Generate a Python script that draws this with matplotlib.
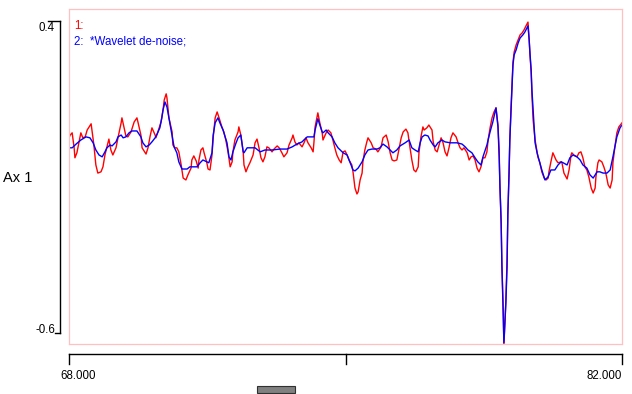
import matplotlib
matplotlib.use('Agg')
import matplotlib.pyplot as plt
from matplotlib.lines import Line2D
from matplotlib.patches import Rectangle
from matplotlib.transforms import blended_transform_factory, offset_copy

# raw trace (channel 1, red)
t_raw = [68.00, 68.03, 68.08, 68.13, 68.15, 68.20, 68.25, 68.30, 68.35, 68.41,
         68.46, 68.56, 68.58, 68.63, 68.68, 68.73, 68.81, 68.86, 68.91, 68.96,
         69.01, 69.06, 69.11, 69.19, 69.24, 69.32, 69.34, 69.39, 69.44, 69.49,
         69.57, 69.65, 69.72, 69.75, 69.82, 69.85, 69.95, 70.00, 70.05, 70.10,
         70.18, 70.20, 70.25, 70.33, 70.38, 70.41, 70.46, 70.48, 70.53, 70.61,
         70.63, 70.68, 70.73, 70.78, 70.84, 70.89, 70.96, 71.01, 71.09, 71.11,
         71.16, 71.22, 71.27, 71.29, 71.34, 71.39, 71.42, 71.49, 71.52, 71.57,
         71.62, 71.65, 71.70, 71.75, 71.80, 71.87, 71.92, 71.97, 72.03, 72.08,
         72.13, 72.15, 72.20, 72.28, 72.30, 72.35, 72.41, 72.43, 72.48, 72.53,
         72.58, 72.66, 72.71, 72.76, 72.81, 72.86, 72.91, 72.96, 73.01, 73.06,
         73.14, 73.19, 73.27, 73.32, 73.39, 73.44, 73.52, 73.57, 73.65, 73.67,
         73.72, 73.77, 73.82, 73.90, 73.95, 74.00, 74.05, 74.13, 74.18, 74.20,
         74.23, 74.28, 74.30, 74.35, 74.41, 74.43, 74.51, 74.56, 74.63, 74.68,
         74.73, 74.78, 74.84, 74.89, 74.94, 74.99, 75.04, 75.09, 75.16, 75.19,
         75.24, 75.29, 75.32, 75.37, 75.42, 75.44, 75.49, 75.54, 75.57, 75.65,
         75.70, 75.77, 75.82, 75.90, 75.95, 76.03, 76.08, 76.13, 76.18, 76.23,
         76.30, 76.35, 76.41, 76.46, 76.53, 76.58, 76.63, 76.68, 76.73, 76.78,
         76.84, 76.86, 76.91, 76.96, 76.99, 77.06, 77.11, 77.19, 77.22, 77.27,
         77.32, 77.37, 77.42, 77.47, 77.52, 77.57, 77.62, 77.67, 77.72, 77.80,
         77.85, 77.90, 77.95, 78.00, 78.08, 78.13, 78.18, 78.23, 78.28, 78.33,
         78.38, 78.43, 78.48, 78.53, 78.58, 78.61, 78.66, 78.71, 78.76, 78.81,
         78.86, 78.89, 78.91, 78.94, 78.96, 78.99, 79.01, 79.04, 79.06, 79.09,
         79.11, 79.14, 79.16, 79.19, 79.22, 79.24, 79.27, 79.32, 79.37, 79.42,
         79.47, 79.52, 79.57, 79.62, 79.65, 79.67, 79.70, 79.72, 79.75, 79.80,
         79.85, 79.87, 79.92, 79.97, 80.03, 80.08, 80.13, 80.15, 80.20, 80.25,
         80.33, 80.38, 80.46, 80.48, 80.53, 80.61, 80.66, 80.71, 80.73, 80.78,
         80.86, 80.91, 80.96, 81.01, 81.06, 81.11, 81.16, 81.22, 81.27, 81.32,
         81.34, 81.39, 81.42, 81.49, 81.54, 81.59, 81.65, 81.70, 81.75, 81.77,
         81.82, 81.87, 81.92, 82.00]
raw = [0.026, 0.035, 0.042, -0.006, -0.038, -0.022, 0.010, 0.042, 0.026, 0.029,
       0.051, 0.071, 0.051, 0.003, -0.061, -0.087, -0.083, -0.067, -0.029, -0.003,
       0.022, -0.013, -0.029, -0.006, 0.026, 0.074, 0.090, 0.061, 0.032, 0.029,
       0.045, 0.077, 0.090, 0.074, 0.035, -0.006, -0.026, -0.006, 0.029, 0.058,
       0.035, 0.026, 0.045, 0.077, 0.115, 0.147, 0.167, 0.154, 0.090, 0.045,
       0.003, -0.006, -0.006, -0.019, -0.061, -0.103, -0.109, -0.093, -0.071, -0.045,
       -0.032, -0.048, -0.071, -0.045, -0.013, -0.006, -0.022, -0.054, -0.074, -0.077,
       -0.029, 0.026, 0.090, 0.109, 0.090, 0.061, 0.045, 0.019, -0.022, -0.067,
       -0.051, -0.019, 0.019, 0.045, 0.061, 0.035, -0.019, -0.061, -0.083, -0.067,
       -0.054, -0.029, 0.010, 0.022, -0.006, -0.038, -0.051, -0.035, -0.003, -0.006,
       -0.019, -0.010, 0.000, -0.006, -0.022, -0.035, -0.022, 0.003, 0.026, 0.035,
       0.013, 0.003, 0.010, -0.003, 0.010, 0.026, 0.010, -0.006, -0.019, 0.010,
       0.061, 0.093, 0.106, 0.074, 0.042, 0.019, 0.042, 0.051, 0.042, 0.019,
       -0.006, -0.029, -0.045, -0.054, -0.019, -0.016, -0.029, -0.045, -0.061, -0.083,
       -0.135, -0.154, -0.147, -0.109, -0.087, -0.051, -0.013, 0.013, 0.026, 0.010,
       -0.006, -0.010, -0.019, -0.003, 0.026, 0.035, 0.013, -0.022, -0.045, -0.048,
       -0.045, -0.013, 0.026, 0.045, 0.054, 0.042, -0.003, -0.045, -0.077, -0.083,
       -0.067, -0.022, 0.029, 0.061, 0.051, 0.058, 0.067, 0.051, 0.013, -0.013,
       -0.019, 0.003, 0.026, 0.010, -0.019, -0.032, -0.006, 0.026, 0.042, 0.029,
       0.010, -0.006, -0.013, -0.006, -0.022, -0.045, -0.035, -0.032, -0.045, -0.071,
       -0.083, -0.067, -0.038, -0.038, -0.019, 0.019, 0.058, 0.090, 0.109, 0.122,
       0.067, -0.013, -0.131, -0.237, -0.381, -0.510, -0.638, -0.558, -0.494, -0.365,
       -0.221, -0.093, 0.019, 0.122, 0.212, 0.269, 0.301, 0.324, 0.340, 0.356,
       0.362, 0.372, 0.385, 0.397, 0.340, 0.292, 0.237, 0.163, 0.083, 0.019,
       -0.019, -0.035, -0.054, -0.083, -0.103, -0.109, -0.103, -0.083, -0.051, -0.022,
       -0.045, -0.054, -0.051, -0.054, -0.087, -0.106, -0.077, -0.029, -0.022, -0.029,
       -0.035, -0.022, -0.019, -0.038, -0.067, -0.077, -0.099, -0.135, -0.151, -0.135,
       -0.099, -0.054, -0.045, -0.051, -0.067, -0.087, -0.125, -0.135, -0.109, -0.054,
       -0.003, 0.042, 0.061, 0.074]

# wavelet de-noised trace (channel 2, blue)
t_den = [68.00, 68.08, 68.18, 68.30, 68.43, 68.53, 68.61, 68.68, 68.76, 68.84,
         68.91, 68.96, 69.04, 69.09, 69.19, 69.24, 69.32, 69.37, 69.44, 69.52,
         69.59, 69.72, 69.82, 69.87, 69.95, 70.03, 70.10, 70.18, 70.23, 70.30,
         70.35, 70.38, 70.43, 70.48, 70.53, 70.61, 70.66, 70.73, 70.78, 70.86,
         70.99, 71.06, 71.24, 71.32, 71.39, 71.49, 71.54, 71.62, 71.65, 71.70,
         71.77, 71.82, 71.90, 72.00, 72.05, 72.10, 72.15, 72.23, 72.28, 72.35,
         72.41, 72.43, 72.51, 72.61, 72.71, 72.84, 72.96, 73.14, 73.34, 73.52,
         73.65, 73.77, 73.90, 73.97, 74.03, 74.20, 74.23, 74.28, 74.30, 74.35,
         74.41, 74.43, 74.51, 74.56, 74.66, 74.73, 74.81, 74.94, 75.04, 75.11,
         75.19, 75.24, 75.32, 75.42, 75.49, 75.57, 75.67, 75.80, 75.87, 75.95,
         76.05, 76.13, 76.20, 76.30, 76.38, 76.51, 76.61, 76.68, 76.76, 76.84,
         76.89, 76.94, 77.01, 77.09, 77.14, 77.22, 77.27, 77.34, 77.44, 77.52,
         77.65, 77.82, 77.95, 78.03, 78.10, 78.20, 78.28, 78.35, 78.43, 78.48,
         78.58, 78.66, 78.73, 78.78, 78.81, 78.86, 78.89, 78.91, 78.94, 78.96,
         78.99, 79.01, 79.06, 79.09, 79.11, 79.14, 79.16, 79.19, 79.22, 79.24,
         79.27, 79.32, 79.37, 79.42, 79.49, 79.54, 79.59, 79.62, 79.65, 79.67,
         79.70, 79.72, 79.75, 79.80, 79.85, 79.90, 79.97, 80.05, 80.13, 80.20,
         80.30, 80.38, 80.46, 80.51, 80.61, 80.68, 80.76, 80.86, 80.94, 81.01,
         81.11, 81.19, 81.27, 81.37, 81.44, 81.52, 81.62, 81.70, 81.77, 81.82,
         81.87, 81.95, 82.00]
den = [-0.006, -0.006, 0.006, 0.019, 0.029, 0.026, 0.010, -0.013, -0.029, -0.035,
       -0.019, -0.006, 0.003, 0.000, 0.013, 0.029, 0.035, 0.026, 0.029, 0.042,
       0.048, 0.048, 0.029, 0.010, -0.003, 0.003, 0.013, 0.026, 0.038, 0.058,
       0.090, 0.115, 0.141, 0.125, 0.090, 0.035, -0.003, -0.022, -0.051, -0.074,
       -0.074, -0.067, -0.067, -0.054, -0.045, -0.051, -0.054, -0.022, 0.035, 0.074,
       0.090, 0.074, 0.051, 0.010, -0.035, -0.045, -0.019, 0.010, 0.026, 0.035,
       -0.019, -0.022, -0.006, -0.006, -0.006, -0.019, -0.013, -0.013, -0.010, -0.010,
       -0.003, 0.006, 0.013, 0.022, 0.029, 0.029, 0.051, 0.077, 0.087, 0.067,
       0.045, 0.042, 0.051, 0.042, 0.029, 0.010, -0.006, -0.022, -0.029, -0.051,
       -0.077, -0.080, -0.071, -0.051, -0.029, -0.013, -0.010, -0.010, -0.006, 0.006,
       -0.003, -0.013, -0.022, -0.013, 0.000, 0.010, 0.019, -0.006, -0.013, -0.019,
       0.010, 0.029, 0.035, 0.032, 0.019, 0.003, -0.003, 0.010, 0.019, 0.013,
       0.010, 0.010, 0.006, -0.003, -0.013, -0.022, -0.038, -0.051, -0.061, -0.035,
       0.003, 0.045, 0.077, 0.106, 0.122, 0.061, -0.035, -0.131, -0.247, -0.388,
       -0.526, -0.631, -0.503, -0.388, -0.215, -0.087, 0.019, 0.115, 0.202, 0.260,
       0.292, 0.308, 0.330, 0.346, 0.356, 0.365, 0.378, 0.385, 0.340, 0.298,
       0.244, 0.179, 0.115, 0.010, -0.022, -0.045, -0.077, -0.109, -0.099, -0.077,
       -0.077, -0.061, -0.051, -0.054, -0.061, -0.038, -0.029, -0.035, -0.045, -0.061,
       -0.071, -0.093, -0.103, -0.083, -0.083, -0.087, -0.087, -0.077, -0.035, -0.003,
       0.029, 0.058, 0.067]

y_ticks = [0.4, -0.6]
y_labels = ['0.4', '-0.6']
x_ticks = [68, 75, 82]
x_labels = ['68.000', '', '82.000']
legend = [('1:', '#ff0000'), ('2:  *Wavelet de-noise;', '#0000ff')]

W, H = 632, 394
plt.rcParams['font.family'] = ['Liberation Sans', 'DejaVu Sans']
fig = plt.figure(figsize=(W / 100, H / 100), dpi=100, facecolor='white')

def fx(px):
    return px / W

def fy(py):
    return 1 - py / H

ax = fig.add_axes([fx(69), fy(344), 553 / W, 335 / H])
ax.plot(t_raw, raw, color='#ff0000', lw=1.0)
ax.plot(t_den, den, color='#0000ff', lw=1.0)
ax.set_xlim(68, 82)
ax.set_ylim(-0.635, 0.439)
ax.set_xticks([])
ax.set_yticks([])
for s in ax.spines.values():
    s.set_color('#ffc0c0')
    s.set_linewidth(0.9)

for i, (txt, col) in enumerate(legend):
    fig.text(fx(74), fy(26 + 15 * i), txt, color=col, fontsize=8.3, va='center', ha='left')

# left amplitude axis
ty = blended_transform_factory(fig.transFigure, ax.transData)
fig.add_artist(Line2D([fx(59.5)] * 2, [y_ticks[0], y_ticks[1]], transform=ty, color='black', lw=1.0))
fig.add_artist(Line2D([fx(48), fx(59.5)], [y_ticks[0]] * 2, transform=ty, color='black', lw=1.0))
fig.add_artist(Line2D([fx(55), fx(59.5)], [y_ticks[1]] * 2, transform=ty, color='black', lw=1.0))
fig.text(fx(55), y_ticks[0], y_labels[0], transform=offset_copy(ty, fig=fig, y=-1, units='dots'),
         ha='right', va='top', fontsize=8.3)
fig.text(fx(55), y_ticks[1], y_labels[1], transform=ty, ha='right', va='baseline', fontsize=8.3)
fig.text(fx(3), fy(178), 'Ax 1', ha='left', va='center', fontsize=10.5)

# bottom time axis
tx = blended_transform_factory(ax.transData, fig.transFigure)
fig.add_artist(Line2D([x_ticks[0], x_ticks[-1]], [fy(354)] * 2, transform=tx, color='black', lw=1.0))
for xt in x_ticks:
    fig.add_artist(Line2D([xt, xt], [fy(354), fy(364)], transform=tx, color='black', lw=1.0))
fig.text(x_ticks[0], fy(376), x_labels[0], transform=offset_copy(tx, fig=fig, x=-9, units='dots'),
         ha='left', va='center', fontsize=8.3)
fig.text(x_ticks[-1], fy(376), x_labels[-1], transform=tx, ha='right', va='center', fontsize=8.3)

# scrollbar thumb
fig.add_artist(Rectangle((fx(257), fy(393)), 38 / W, 7 / H, transform=fig.transFigure,
                         facecolor='#808080', edgecolor='#303030', lw=0.8))

fig.savefig('out.png', dpi=100, facecolor='white')
